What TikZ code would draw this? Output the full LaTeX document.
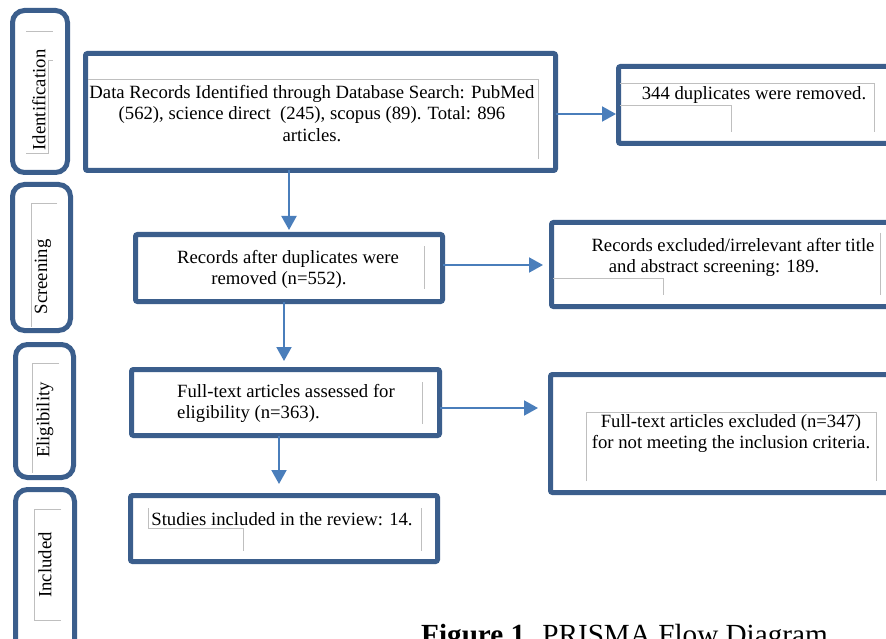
\documentclass[tikz,border=0pt]{standalone}
\usepackage{fontspec}
\setmainfont{Liberation Serif}
\usetikzlibrary{arrows.meta}
\definecolor{boxblue}{HTML}{3B5E8C}
\definecolor{arrblue}{HTML}{4A7EBB}
\begin{document}
\begin{tikzpicture}[x=1pt,y=-1pt,
  mainbox/.style={draw=boxblue,line width=5pt,rounded corners=2pt,inner sep=0pt,outer sep=0pt},
  sidebox/.style={draw=boxblue,line width=5pt,rounded corners=12pt,inner sep=0pt,outer sep=0pt},
  txt/.style={font=\fontsize{18.7}{21.5}\selectfont,inner sep=0pt,align=center},
  lab/.style={font=\fontsize{18.7}{21.5}\selectfont,inner sep=0pt,rotate=90},
  arr/.style={draw=arrblue,line width=2pt,-{Triangle[length=14pt,width=15pt]}},
  gl/.style={draw=black!25,line width=0.8pt}]
\path[use as bounding box, clip] (0,0) rectangle (886,639);
\fill[white] (0,0) rectangle (886,639);

% side boxes
\node[sidebox,minimum width=55pt,minimum height=162pt] (s1) at (40,91.5) {};
\node[sidebox,minimum width=58pt,minimum height=146pt] (s2) at (41.5,257.5) {};
\node[sidebox,minimum width=58pt,minimum height=133pt] (s3) at (44.5,411) {};
\node[sidebox,minimum width=59pt,minimum height=168pt] (s4) at (45,573.5) {};

% main boxes
\node[mainbox,minimum width=470pt,minimum height=117pt] (b1) at (320.5,112) {};
\node[mainbox,minimum width=279pt,minimum height=77pt] (dup) at (758,105) {};
\node[mainbox,minimum width=307pt,minimum height=67pt] (b2) at (289,268) {};
\node[mainbox,minimum width=346pt,minimum height=84pt] (ex1) at (724.5,264.5) {};
\node[mainbox,minimum width=308pt,minimum height=66pt] (b3) at (285.5,402.5) {};
\node[mainbox,minimum width=347pt,minimum height=118pt] (ex2) at (724,433.5) {};
\node[mainbox,minimum width=307pt,minimum height=66pt] (b4) at (284,528.5) {};

% grey text-frame artefacts
\draw[gl] (26,31) -- (53,31) (48,60) -- (53,60) (48,60) -- (48,153) -- (26,153);
\draw[gl] (57,203) -- (31,203) -- (31,327);
\draw[gl] (59,363) -- (32,363) -- (32,473);
\draw[gl] (61,509) -- (34,509) -- (34,620) -- (61,620);
\draw[gl] (88,79) -- (538,79) -- (538,159);
\draw[gl] (620,83) -- (874,83) -- (874,132) (620,105) -- (731,105) -- (731,132);
\draw[gl] (880,233) -- (880,295) (553,278) -- (663,278) -- (663,295);
\draw[gl] (424,246) -- (424,289);
\draw[gl] (422,382) -- (422,424);
\draw[gl] (586,481) -- (586,412) -- (876,412) -- (876,481);
\draw[gl] (148,508) -- (148,528) -- (243,528) -- (243,551) (421,508) -- (421,551);

% side labels
\node[lab] (l1) at (39,100) {Identification};
\node[lab] (l2) at (43,277) {Screening};
\node[lab] (l3) at (45,420) {Eligibility};
\node[lab] (l4) at (45,565) {Included};

% texts
\node[txt] (t1) at (312,113.5) {Data Records Identified through Database Search: PubMed\\(562), science direct\ \ (245), scopus (89). Total: 896\\articles.};
\node[txt] (tdup) at (754,95) {344 duplicates were removed.};
\node[txt] (t2) at (288,269.5) {Records after duplicates were\\removed (n=552).\hspace*{18pt}};
\node[txt] (tex1) at (733,257.5) {Records excluded/irrelevant after title\\and abstract screening: 189.\hspace*{38pt}};
\node[txt,align=left,anchor=west] (t3) at (177,403.5) {Full-text articles assessed for\\eligibility (n=363).};
\node[txt] (tex2) at (731,433.5) {Full-text articles excluded (n=347)\\for not meeting the inclusion criteria.};
\node[txt] (t4) at (282,519) {Studies included in the review: 14.};

% caption
\node[inner sep=0pt,anchor=base west,font=\fontsize{29.2}{34}\selectfont] (cap) at (421,644) {\textbf{Figure 1.} PRISMA Flow Diagram};

% connectors
\coordinate (x23) at (284,0);
\coordinate (x34) at (279,0);
\coordinate (yA) at (0,114);
\coordinate (yB) at (0,265);
\coordinate (yC) at (0,408);
\draw[arr,shorten >=4.5pt] (b1.south -| b2.north) -- (b2.north);
\draw[arr,shorten >=8.5pt] (b2.south -| x23) -- (b3.north -| x23);
\draw[arr,shorten >=11.5pt] (b3.south -| x34) -- (b4.north -| x34);
\draw[arr,shorten >=2.5pt] (b1.east |- yA) -- (dup.west |- yA);
\draw[arr,shorten >=8.5pt] (b2.east |- yB) -- (ex1.west |- yB);
\draw[arr,shorten >=12.5pt] (b3.east |- yC) -- (ex2.west |- yC);
\end{tikzpicture}
\end{document}
